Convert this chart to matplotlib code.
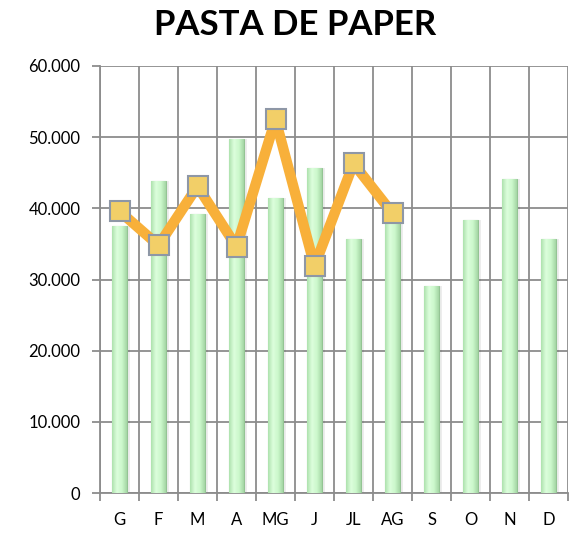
import numpy as np
import matplotlib.pyplot as plt
from matplotlib.colors import LinearSegmentedColormap

months = ['G', 'F', 'M', 'A', 'MG', 'J', 'JL', 'AG', 'S', 'O', 'N', 'D']
bar_values = [37500, 43800, 39200, 49800, 41500, 45700, 35700, 38700, 29100, 38400, 44100, 35700]
line_months = ['G', 'F', 'M', 'A', 'MG', 'J', 'JL', 'AG']
line_values = [39600, 34800, 43100, 34600, 52500, 31900, 46300, 39300]

plt.rcParams['font.family'] = ['Lato', 'DejaVu Sans']

fig = plt.figure(figsize=(5.7, 5.44), dpi=100)
ax = fig.add_axes([100 / 570, 51 / 544, 468 / 570, 427 / 544])

x = np.arange(len(months))
w = 0.38

# soft shadow to the right of each bar
ax.bar(x + 0.07, bar_values, width=w, color='#000000', alpha=0.07, zorder=2, linewidth=0)
bars = ax.bar(x, bar_values, width=w, color='#c8f4c8', edgecolor='#94c494', linewidth=0.8, zorder=3)

# horizontal gradient inside the bars (darker edges, light centre)
grad_cmap = LinearSegmentedColormap.from_list('g', ['#aee2ae', '#dcfedc', '#ccf8cc', '#a4d6a4'])
grad = np.linspace(0, 1, 64).reshape(1, -1)
for b in bars:
    im = ax.imshow(grad, cmap=grad_cmap, aspect='auto', zorder=3.5,
                   extent=[b.get_x(), b.get_x() + b.get_width(), 0, b.get_height()])
    im.set_clip_path(b)

lx = [months.index(m) for m in line_months]
ax.plot(lx, line_values, color='#f8b03a', linewidth=7.5, zorder=4, solid_joinstyle='round')
ax.plot(lx, line_values, linestyle='none', marker='s', markersize=14,
        markerfacecolor='#f2cf68', markeredgecolor='#8e97a6', markeredgewidth=1.5, zorder=5)

ax.set_xlim(-0.5, len(months) - 0.5)
ax.set_ylim(0, 60000)
ax.set_yticks(np.arange(0, 60001, 10000))
ax.set_yticklabels(['0' if v == 0 else f'{v // 1000}.000' for v in range(0, 60001, 10000)])
ax.set_xticks(x)
ax.set_xticklabels(months)
ax.set_xticks(np.arange(-0.5, len(months), 1), minor=True)

ax.grid(True, which='major', axis='y', color='#8c8c8c', linewidth=1.3, zorder=0)
ax.grid(True, which='minor', axis='x', color='#8c8c8c', linewidth=1.3, zorder=0)
ax.set_axisbelow(True)

for s in ['top', 'right']:
    ax.spines[s].set_visible(False)
ax.spines['left'].set_color('#8c8c8c')
ax.spines['bottom'].set_color('#8c8c8c')
ax.spines['left'].set_linewidth(1.3)
ax.spines['bottom'].set_linewidth(1.3)

ax.tick_params(axis='y', which='major', length=6, color='#8c8c8c', width=1.3, labelsize=12, pad=8)
ax.tick_params(axis='x', which='major', length=0, labelsize=12, pad=14)
ax.tick_params(axis='x', which='minor', length=6, color='#8c8c8c', width=1.3)

fig.text(295 / 570, 1 - 25 / 544, 'PASTA DE PAPER', ha='center', va='center',
         fontsize=25, fontweight='bold')

fig.savefig('out.png', dpi=100)
